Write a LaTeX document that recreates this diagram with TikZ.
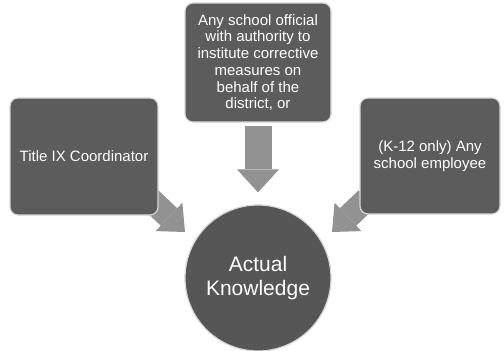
\documentclass[tikz,border=0pt]{standalone}
\usepackage{fontspec}
\setsansfont{Liberation Sans}
\usepackage{xcolor}
\usetikzlibrary{arrows.meta,positioning}
\definecolor{boxgray}{RGB}{92,92,92}
\definecolor{circgray}{RGB}{86,86,86}
\definecolor{arrgray}{RGB}{146,146,146}
\definecolor{edgegray}{RGB}{215,215,215}
\tikzset{
  % source boxes
  srcbox/.style={
    draw=edgegray,
    line width=1.2pt,
    fill=boxgray,
    rounded corners=8pt,
    text=white,
    align=center,
    font=\sffamily\fontsize{15}{16.7}\selectfont
  },
  % centre circle
  knowcirc/.style={
    circle,
    draw=edgegray,
    line width=1.2pt,
    fill=circgray,
    minimum size=146pt,
    inner sep=0pt,
    text=white,
    align=center,
    font=\sffamily\fontsize{21}{24}\selectfont
  },
  % block arrows
  blockarr/.style={-{Triangle[length=23pt,width=42pt,line width=0pt]}, line width=27pt, arrgray},
  sidearr/.style={-{Triangle[length=22pt,width=39pt,line width=0pt]}, line width=24pt, arrgray},
}
\begin{document}
\begin{tikzpicture}[x=1pt,y=-1pt]
    \useasboundingbox (0,0) rectangle (504,351);

    % side arrows sit behind the boxes
    \coordinate (ltail) at (150,199);
    \coordinate (ltip) at (185,232);
    \coordinate (rtail) at (367,199);
    \coordinate (rtip) at (332,232);
    \draw[sidearr] (ltail) -- (ltip);
    \draw[sidearr] (rtail) -- (rtip);

    % boxes
    \node[srcbox, minimum width=146pt, minimum height=119pt] (official) at (258,62.5)
        {Any school official\\with authority to\\institute corrective\\measures on\\behalf of the\\district, or};
    \node[srcbox, minimum width=148pt, minimum height=117pt] (title) at (84,156.5)
        {Title IX Coordinator};
    \node[srcbox, minimum width=140pt, minimum height=116pt] (k12) at (430,156)
        {(K-12 only) Any\\school employee};

    % circle
    \node[knowcirc] (know) at (258,278) {Actual\\Knowledge};

    % top arrow
    \draw[blockarr, shorten <=3pt, shorten >=12pt] (official) -- (know);
\end{tikzpicture}
\end{document}
